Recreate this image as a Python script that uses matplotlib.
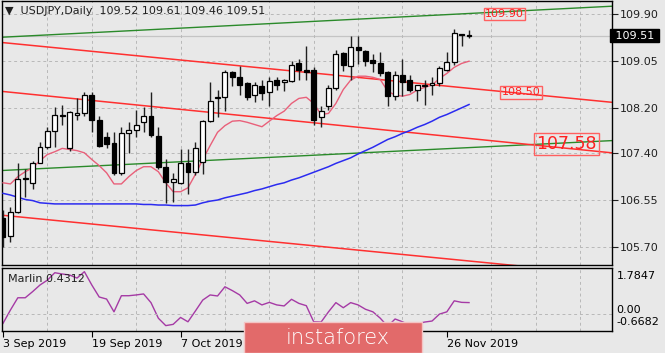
import matplotlib
matplotlib.use("Agg")
import matplotlib.pyplot as plt
from matplotlib.patches import Rectangle
import numpy as np

# daily OHLC, 3 Sep 2019 .. 29 Nov 2019
opens = [106.23, 105.91, 106.34, 106.92, 106.86, 107.22, 107.51, 107.80, 108.09, 107.48,
         108.09, 108.11, 108.44, 108.00, 107.69, 107.57, 107.04, 107.76, 107.82, 107.95,
         108.06, 107.71, 107.15, 106.88, 106.86, 107.22, 107.06, 107.24, 107.97, 108.38,
         108.40, 108.85, 108.76, 108.65, 108.44, 108.60, 108.49, 108.71, 108.67, 108.69,
         109.01, 108.89, 108.89, 108.04, 108.24, 108.56, 109.20, 108.96, 109.30, 109.23,
         109.07, 109.01, 108.85, 108.42, 108.81, 108.72, 108.54, 108.60, 108.62, 108.65,
         108.90, 109.03, 109.54, 109.52]
highs = [106.37, 106.43, 107.22, 107.10, 107.26, 107.59, 107.87, 108.22, 108.27, 108.15,
         108.38, 108.49, 108.49, 108.06, 107.78, 107.78, 107.87, 107.95, 108.18, 108.22,
         108.49, 107.87, 107.28, 107.04, 107.46, 107.46, 107.60, 108.00, 108.67, 108.54,
         108.90, 108.87, 108.96, 108.67, 108.67, 108.72, 108.76, 108.76, 108.73, 109.05,
         109.09, 109.32, 108.94, 108.24, 108.63, 109.26, 109.21, 109.50, 109.50, 109.26,
         109.18, 109.21, 108.87, 108.87, 109.09, 108.81, 108.63, 108.72, 108.76, 108.96,
         109.21, 109.63, 109.54, 109.61]
lows = [105.70, 105.80, 106.32, 106.61, 106.74, 107.22, 107.46, 107.51, 107.91, 107.43,
        108.00, 108.06, 107.78, 107.51, 107.49, 107.00, 107.00, 107.40, 107.68, 107.77,
        107.68, 107.10, 106.50, 106.52, 106.83, 106.65, 107.00, 107.01, 107.95, 108.04,
        108.15, 108.60, 108.45, 108.36, 108.31, 108.36, 108.24, 108.53, 108.51, 108.67,
        108.72, 108.72, 107.91, 107.87, 108.18, 108.54, 108.87, 108.72, 109.00, 108.96,
        108.85, 108.78, 108.24, 108.36, 108.42, 108.49, 108.33, 108.27, 108.45, 108.60,
        108.87, 108.99, 109.32, 109.46]
closes = [105.89, 106.34, 106.92, 106.94, 107.21, 107.51, 107.80, 108.09, 108.07, 108.13,
          108.11, 108.45, 108.00, 107.53, 107.55, 107.04, 107.75, 107.82, 107.91, 108.06,
          107.73, 107.15, 106.88, 106.93, 107.22, 107.06, 107.48, 107.98, 108.33, 108.40,
          108.85, 108.76, 108.63, 108.40, 108.62, 108.47, 108.69, 108.63, 108.72, 108.99,
          108.89, 108.86, 108.00, 108.16, 108.56, 109.18, 108.98, 109.30, 109.25, 109.05,
          109.01, 108.83, 108.42, 108.80, 108.67, 108.54, 108.62, 108.62, 108.65, 108.92,
          109.03, 109.56, 109.52, 109.51]

# moving averages as drawn on the chart
ma_fast = [106.86, 106.84, 106.97, 107.06, 107.13, 107.26, 107.37, 107.42, 107.48, 107.46,
           107.44, 107.40, 107.28, 107.17, 107.04, 106.84, 106.84, 106.97, 107.08, 107.15,
           107.15, 107.06, 106.86, 106.70, 106.70, 106.77, 107.01, 107.28, 107.53, 107.77,
           107.89, 107.97, 107.98, 107.95, 107.91, 107.87, 107.97, 108.07, 108.15, 108.29,
           108.38, 108.40, 108.29, 108.09, 108.11, 108.29, 108.54, 108.71, 108.78, 108.78,
           108.76, 108.72, 108.51, 108.44, 108.42, 108.45, 108.53, 108.58, 108.62, 108.74,
           108.83, 108.94, 109.01, 109.05]
ma_slow = [106.67, 106.64, 106.60, 106.56, 106.54, 106.50, 106.49, 106.48, 106.48, 106.48,
           106.48, 106.48, 106.48, 106.48, 106.48, 106.48, 106.48, 106.48, 106.48, 106.47,
           106.47, 106.46, 106.46, 106.45, 106.45, 106.45, 106.46, 106.50, 106.53, 106.55,
           106.59, 106.62, 106.65, 106.68, 106.72, 106.75, 106.79, 106.83, 106.86, 106.91,
           106.95, 107.00, 107.05, 107.10, 107.15, 107.21, 107.26, 107.31, 107.38, 107.44,
           107.50, 107.57, 107.64, 107.69, 107.75, 107.80, 107.86, 107.91, 107.97, 108.04,
           108.09, 108.15, 108.21, 108.27]

marlin = [-0.38, 0.14, 0.62, 0.62, 0.86, 1.12, 1.31, 1.60, 1.55, 1.51,
          1.39, 1.64, 1.12, 0.65, 0.57, 0.07, 0.70, 0.70, 0.73, 0.77,
          0.43, -0.18, -0.47, -0.42, -0.15, -0.32, 0.10, 0.53, 0.73, 0.69,
          1.05, 0.90, 0.73, 0.40, 0.50, 0.34, 0.44, 0.34, 0.30, 0.56,
          0.40, 0.31, -0.32, -0.33, 0.07, 0.43, 0.23, 0.43, 0.34, 0.17,
          0.07, -0.18, -0.50, -0.21, -0.32, -0.45, -0.40, -0.33, -0.29, -0.02,
          0.07, 0.50, 0.44, 0.4312]

# trend lines: (bar_start, price_start, bar_end, price_end)
green_lines = [(-0.4, 109.48, 82.3, 110.04), (-0.4, 107.08, 82.3, 107.62)]
red_lines = [(-0.4, 109.39, 82.3, 108.31), (-0.4, 108.51, 82.3, 107.40),
             (-0.4, 106.28, 82.3, 105.20)]

price_ticks = [109.90, 109.05, 108.20, 107.40, 106.55, 105.70]
# labels at bars 36 and 48 sit under the watermark in the original, so only the visible ones
date_ticks = [0, 12, 24, 60]
date_labels = ["3 Sep 2019", "19 Sep 2019", "7 Oct 2019", "26 Nov 2019"]
levels = [(67.8, 109.90, "109.90", 8), (70.0, 108.49, "108.50", 8),
          (76.2, 107.56, "107.58", 12.5)]

bg = "#e8e8e8"
plt.rcParams["font.family"] = "DejaVu Sans"
fig = plt.figure(figsize=(6.65, 3.53), dpi=100, facecolor=bg)
ax = fig.add_axes([0.003, 0.2493, 0.917, 0.748], facecolor=bg)
ax2 = fig.add_axes([0.003, 0.0632, 0.917, 0.1776], facecolor=bg)

x = np.arange(len(opens))
xlim = (-0.14, 82.3)

# grid
for a in (ax, ax2):
    a.set_xlim(*xlim)
    a.set_xticks(np.arange(0, 83, 6), minor=True)
    a.grid(True, which="minor", axis="x", color="#b8b8b8", ls=(0, (3, 3)), lw=0.7)
    for s in a.spines.values():
        s.set_linewidth(1.0)
ax.set_yticks(price_ticks)
ax.grid(True, which="major", axis="y", color="#b8b8b8", ls=(0, (3, 3)), lw=0.7)
ax.set_ylim(105.38, 110.135)

# bid line
ax.axhline(closes[-1], color="#c4c4c4", lw=0.9, zorder=1)

# trend lines
for x0, y0, x1, y1 in green_lines:
    ax.plot([x0, x1], [y0, y1], color="#2a8a2a", lw=1.0, zorder=2)
for x0, y0, x1, y1 in red_lines:
    ax.plot([x0, x1], [y0, y1], color="#ff3030", lw=1.1, zorder=2)

# moving averages
ax.plot(x, ma_fast, color="#e8607a", lw=1.0, zorder=3)
ax.plot(x, ma_slow, color="#2b2bf0", lw=1.1, zorder=3)

# candles
o = np.array(opens); c = np.array(closes)
ax.vlines(x, lows, highs, color="#202020", lw=1.0, zorder=4)
up = c >= o
ax.bar(x[up], (c - o)[up], bottom=o[up], width=0.66, color="white",
       edgecolor="black", linewidth=0.9, zorder=5)
ax.bar(x[~up], (o - c)[~up], bottom=c[~up], width=0.66, color="black",
       edgecolor="black", linewidth=0.9, zorder=5)

# level labels
for bx, py, txt, fs in levels:
    ax.text(bx, py, txt, color="#ff2020", fontsize=fs, ha="center", va="center", zorder=6,
            bbox=dict(boxstyle="square,pad=0.12", fc="none", ec="#ff6060", lw=1.0))

# right axis
ax.yaxis.tick_right()
ax.set_yticklabels([f"{v:.2f}" for v in price_ticks], fontsize=8)
ax.tick_params(axis="y", direction="out", length=4, pad=2, colors="#202020")
ax.tick_params(axis="x", which="both", length=0, labelbottom=False)
ax.text(1.0, closes[-1], " 109.51 ", transform=ax.get_yaxis_transform(), fontsize=8,
        color="white", ha="left", va="center",
        bbox=dict(boxstyle="square,pad=0.15", fc="black", ec="black"))

ax.text(0.005, 0.982, "\u25bc  USDJPY,Daily  109.52 109.61 109.46 109.51", transform=ax.transAxes,
        fontsize=8, ha="left", va="top", color="#202020")

# marlin panel
ax2.plot(x, marlin, color="#a53aa5", lw=1.0)
ax2.set_ylim(-0.6682, 1.7847)
ax2.axhline(0, color="#b8b8b8", ls=(0, (3, 3)), lw=0.7)
ax2.set_yticks([])
ax2.text(1.008, 0.96, "1.7847", transform=ax2.transAxes, fontsize=8, va="top", ha="left")
ax2.text(1.008, 0.33, "0.00", transform=ax2.transAxes, fontsize=8, va="center", ha="left")
ax2.text(1.008, 0.06, "-0.6682", transform=ax2.transAxes, fontsize=8, va="bottom", ha="left")
ax2.text(0.01, 0.9, "Marlin 0.4312", transform=ax2.transAxes, fontsize=8, va="top", ha="left",
         color="#202020")
ax2.set_xticks(date_ticks)
ax2.set_xticklabels(date_labels, fontsize=8, ha="left")
ax2.tick_params(axis="x", which="major", direction="out", length=4, pad=2)
ax2.tick_params(axis="x", which="minor", length=0)

# watermark
fig.patches.append(Rectangle((244 / 665, 0), 178 / 665, 31 / 353, transform=fig.transFigure,
                             fc="#e26a6a", ec="#f4c4c4", lw=1.0, zorder=10))
fig.text(338 / 665, 15 / 353, "instaforex", color="white", fontsize=15, ha="center",
         va="center", zorder=11, fontweight="light")

fig.savefig("out.png", dpi=100, facecolor=bg)
